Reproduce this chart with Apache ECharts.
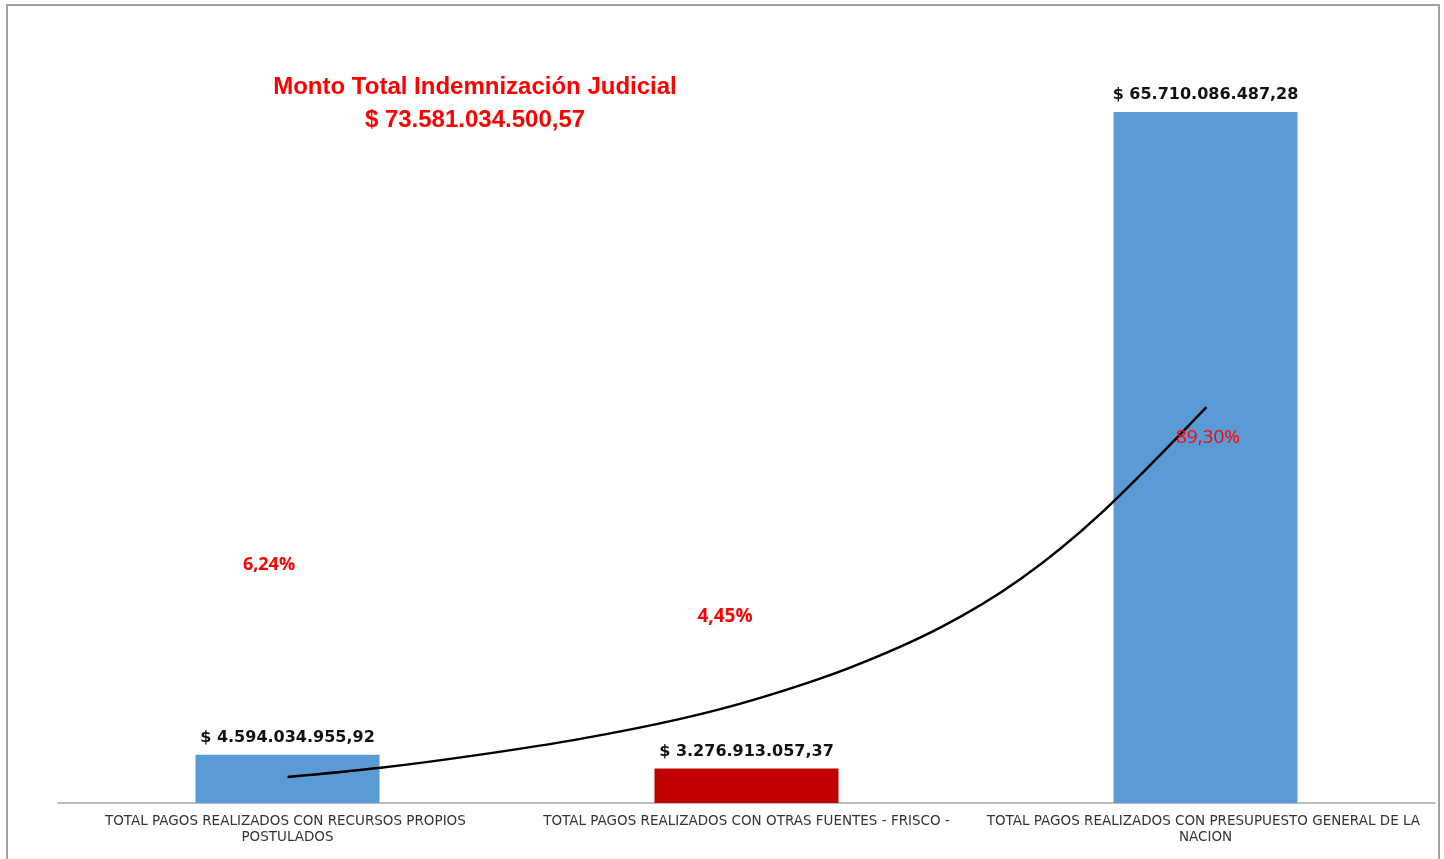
<!DOCTYPE html>
<html>
<head>
<meta charset="utf-8">
<script src="https://cdn.jsdelivr.net/npm/echarts@6/dist/echarts.min.js"></script>
<style>html,body{margin:0;padding:0;background:#fff;}#chart{width:1444px;height:859px;}</style>
</head>
<body>
<div id="chart"></div>
<script>
const categories = [
  'TOTAL PAGOS REALIZADOS CON RECURSOS PROPIOS POSTULADOS',
  'TOTAL PAGOS REALIZADOS CON OTRAS FUENTES - FRISCO -',
  'TOTAL PAGOS REALIZADOS CON PRESUPUESTO GENERAL DE LA NACION'
];
const barValues = [4594034955.92, 3276913057.37, 65710086487.28];
const barLabels = ['$ 4.594.034.955,92', '$ 3.276.913.057,37', '$ 65.710.086.487,28'];
const barColors = ['#5B9BD5', '#C00000', '#5B9BD5'];
const percentLabels = ['6,24%', '4,45%', '89,30%'];
const titleLine1 = 'Monto Total Indemnización Judicial';
const titleLine2 = '$ 73.581.034.500,57';
// trend curve points: [category position, value]
const trendPoints = [
  [0.000, 2472e6], [0.203, 3350e6], [0.420, 4600e6], [0.638, 6100e6],
  [0.856, 8000e6], [1.030, 10000e6], [1.227, 12900e6], [1.423, 16700e6],
  [1.597, 21300e6], [1.771, 27500e6], [2.002, 37656e6]
];

const chart = echarts.init(document.getElementById('chart'));
chart.setOption({
  backgroundColor: '#fff',
  animation: false,
  grid: { left: 58, right: 9, top: 67, bottom: 56 },
  xAxis: [
    {
      type: 'category', data: categories,
      axisLine: { lineStyle: { color: '#A6A6A6', width: 1.5 } },
      axisTick: { show: false },
      axisLabel: {
        interval: 0, fontFamily: 'DejaVu Sans', fontSize: 13.5, color: '#333',
        width: 445, overflow: 'break', lineHeight: 16, margin: 10
      }
    },
    { type: 'value', min: -0.5, max: 2.5, show: false }
  ],
  yAxis: { type: 'value', min: 0, max: 70e9, show: false },
  series: [
    {
      type: 'bar', xAxisIndex: 0, barWidth: 184,
      data: barValues.map((v, i) => ({ value: v, itemStyle: { color: barColors[i] } })),
      label: {
        show: true, position: 'top', distance: 9,
        formatter: p => barLabels[p.dataIndex],
        fontFamily: 'DejaVu Sans', fontWeight: 'bold', fontSize: 16, color: '#111'
      }
    },
    {
      type: 'line', xAxisIndex: 1, data: trendPoints, smooth: 0.3,
      showSymbol: false, symbol: 'none',
      lineStyle: { color: '#000', width: 2.5 }
    }
  ],
  graphic: [
    { type: 'rect', shape: { x: 7, y: 5, width: 1432, height: 870 }, style: { fill: 'none', stroke: '#A0A0A0', lineWidth: 2 }, z: 100 },
    { type: 'text', x: 475, y: 87, style: { text: titleLine1, fill: '#FF0000', font: 'bold 24px "Liberation Sans"', textAlign: 'center', textVerticalAlign: 'middle' } },
    { type: 'text', x: 475, y: 120, style: { text: titleLine2, fill: '#FF0000', font: 'bold 24px "Liberation Sans"', textAlign: 'center', textVerticalAlign: 'middle' } },
    { type: 'text', x: 269, y: 565, style: { text: percentLabels[0], fill: '#FF0000', font: 'bold 18px "Open Sans"', textAlign: 'center', textVerticalAlign: 'middle' } },
    { type: 'text', x: 725, y: 617, style: { text: percentLabels[1], fill: '#FF0000', font: 'bold 19px "Open Sans"', textAlign: 'center', textVerticalAlign: 'middle' } },
    { type: 'text', x: 1208, y: 438, style: { text: percentLabels[2], fill: '#FF0000', font: '19px "Open Sans"', textAlign: 'center', textVerticalAlign: 'middle' }, z: 110 }
  ]
});
</script>
</body>
</html>
